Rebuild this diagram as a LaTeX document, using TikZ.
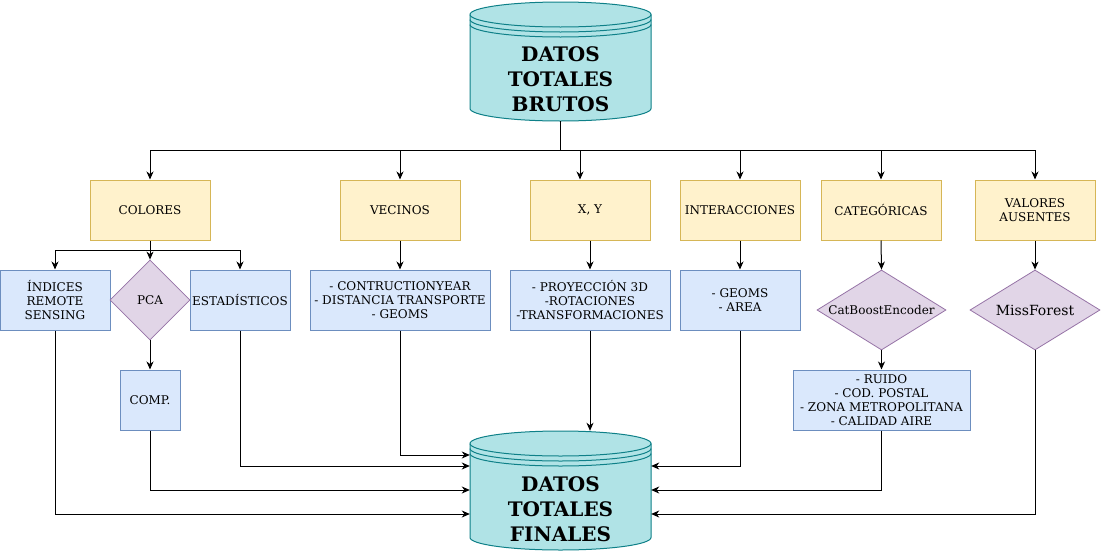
\documentclass[tikz,border=0pt]{standalone}
\usepackage{fontspec}
\setmainfont{DejaVu Serif}
\usetikzlibrary{arrows.meta,shapes.geometric,calc}
\definecolor{yfill}{HTML}{FFF2CC}
\definecolor{ystroke}{HTML}{D6B656}
\definecolor{bfill}{HTML}{DAE8FC}
\definecolor{bstroke}{HTML}{6C8EBF}
\definecolor{pfill}{HTML}{E1D5E7}
\definecolor{pstroke}{HTML}{9673A6}
\definecolor{cfill}{HTML}{B0E3E6}
\definecolor{cstroke}{HTML}{0E8088}
\newcommand{\drawcyl}[2]{%
  \begin{scope}[shift={(#1,#2)}]
    \filldraw[fill=cfill,draw=cstroke,line width=1pt] (-90.5,-12.5) -- (-90.5,-106.5)
      arc[start angle=180,end angle=360,x radius=90.5,y radius=12.5]
      -- (90.5,-12.5)
      arc[start angle=0,end angle=180,x radius=90.5,y radius=12.5] -- cycle;
    \draw[draw=cstroke,line width=1pt] (-90.5,-12.5) arc[start angle=180,end angle=360,x radius=90.5,y radius=12.5];
    \draw[draw=cstroke,line width=1pt] (-90.5,-17.5) arc[start angle=180,end angle=360,x radius=90.5,y radius=12.5];
    \draw[draw=cstroke,line width=1pt] (-90.5,-22.5) arc[start angle=180,end angle=360,x radius=90.5,y radius=12.5];
  \end{scope}}
\begin{document}
\begin{tikzpicture}[x=1pt,y=1pt,
  every node/.style={font=\fontsize{12}{14}\selectfont, align=center, inner sep=1pt},
  ybox/.style={rectangle, draw=ystroke, fill=yfill, line width=1pt, minimum width=120, minimum height=60},
  bbox/.style={rectangle, draw=bstroke, fill=bfill, line width=1pt, minimum height=60},
  dia/.style={diamond, draw=pstroke, fill=pfill, line width=0.8pt, inner sep=0pt},
  cylbox/.style={rectangle, draw=none, minimum width=181, minimum height=119, inner sep=0pt},
  title/.style={font=\fontsize{20}{25}\selectfont\bfseries},
  conn/.style={draw=black, line width=1pt},
  arr/.style={conn, -{Stealth[length=8pt,width=7pt,inset=2.5pt]}}]
\useasboundingbox (0,0) rectangle (1101,-552);

% cylinders
\drawcyl{560.5}{-2}
\drawcyl{560.5}{-431}
\node[cylbox] (top) at (560.5,-61.5) {};
\node[title] (toptext) at (560.5,-79) {DATOS\\TOTALES\\BRUTOS};
\node[cylbox] (bot) at (560.5,-490.5) {};
\node[title] (bottext) at (560.5,-509) {DATOS\\TOTALES\\FINALES};

% first level
\node[ybox] (colores) at (150,-210) {COLORES};
\node[ybox] (vecinos) at (400,-210) {VECINOS};
\node[ybox] (xy) at (590,-210) {X, Y};
\node[ybox] (inter) at (740,-210) {INTERACCIONES};
\node[ybox] (cat) at (881,-210) {CATEGÓRICAS};
\node[ybox] (valores) at (1035,-210) {VALORES\\AUSENTES};

% second level
\node[bbox, minimum width=110] (ind) at (55,-300) {ÍNDICES\\REMOTE\\SENSING};
\node[dia, minimum width=80, minimum height=80] (pca) at (150,-300) {\makebox[0pt]{PCA}};
\node[bbox, minimum width=100] (est) at (240,-300) {ESTADÍSTICOS};
\node[bbox, minimum width=60] (comp) at (150,-400) {COMP.};
\node[bbox, minimum width=180] (veclist) at (400,-300) {- CONTRUCTIONYEAR\\- DISTANCIA TRANSPORTE\\- GEOMS};
\node[bbox, minimum width=160] (xylist) at (590,-300) {- PROYECCIÓN 3D\\-ROTACIONES\\-TRANSFORMACIONES};
\node[bbox, minimum width=120] (interlist) at (740,-300) {- GEOMS\\- AREA};
\node[dia, minimum width=129, minimum height=80] (catboost) at (881.5,-310) {\makebox[0pt]{CatBoostEncoder}};
\node[bbox, minimum width=177] (catlist) at (881.5,-400) {- RUIDO\\- COD. POSTAL\\- ZONA METROPOLITANA\\- CALIDAD AIRE};
\node[dia, minimum width=130, minimum height=80] (miss) at (1035,-310) {\makebox[0pt]{\fontsize{14}{16}\selectfont MissForest}};

% connectors top
\coordinate (split) at (560.5,-150);
\draw[conn] (top.south) -- (split);
\draw[arr] (split) -| (colores.north);
\draw[arr] (split) -| (vecinos.north);
\draw[arr] (split) -| ([xshift=-10]xy.north);
\draw[arr] (split) -| (inter.north);
\draw[arr] (split) -| (cat.north);
\draw[arr] (split) -| (valores.north);

% colores split
\coordinate (csplit) at (150,-250);
\draw[conn] (colores.south) -- (csplit);
\draw[arr] (csplit) -| (ind.north);
\draw[arr] (csplit) -- (pca.north);
\draw[arr] (csplit) -| (est.north);
\draw[arr] (pca.south) -- (comp.north);

\draw[arr] (vecinos.south) -- (veclist.north);
\draw[arr] (xy.south) -- (xylist.north);
\draw[arr] (inter.south) -- (interlist.north);
\draw[arr] (cat.south) -- (catboost.north);
\draw[arr] (catboost.south) -- (catlist.north);
\draw[arr] (valores.south) -- (miss.north);

% to final
\draw[arr] (ind.south) |- (bot.west |- 0,-514);
\draw[arr] (comp.south) |- (bot.west |- 0,-490);
\draw[arr] (est.south) |- (bot.west |- 0,-466);
\draw[arr] (veclist.south) |- (bot.west |- 0,-455);
\draw[arr] (xylist.south) -- (xylist.south |- bot.north);
\draw[arr] (interlist.south) |- (bot.east |- 0,-466);
\draw[arr] (catlist.south) |- (bot.east |- 0,-490);
\draw[arr] (miss.south) |- (bot.east |- 0,-514);
\end{tikzpicture}
\end{document}
